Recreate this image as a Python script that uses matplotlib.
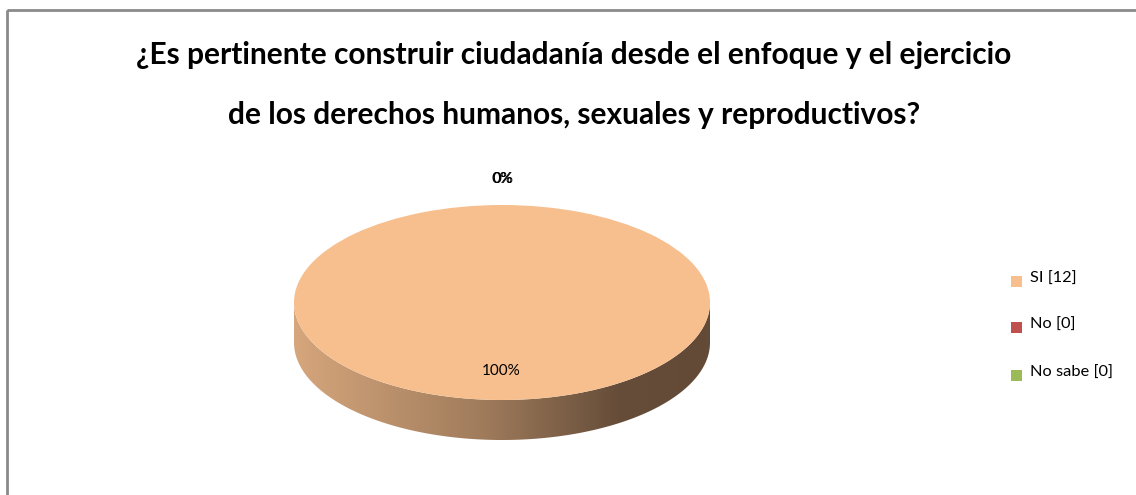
import matplotlib
matplotlib.use('Agg')
import matplotlib.pyplot as plt
import numpy as np
from matplotlib.patches import Polygon, Rectangle
from matplotlib.colors import LinearSegmentedColormap

# data
title = ('¿Es pertinente construir ciudadanía desde el enfoque y el ejercicio\n'
         'de los derechos humanos, sexuales y reproductivos?')
categories = ['SI', 'No', 'No sabe']
counts = [12, 0, 0]
colors = ['#F7BF8E', '#C0504D', '#9BBB59']

W, H = 1136, 495
plt.rcParams['font.family'] = ['Lato', 'DejaVu Sans']

fig = plt.figure(figsize=(W / 100, H / 100), dpi=100)

# full figure canvas in pixel coords
canvas = fig.add_axes([0, 0, 1, 1])
canvas.set_xlim(0, W)
canvas.set_ylim(H, 0)
canvas.axis('off')
canvas.add_patch(Rectangle((7, 10), W + 20, H + 20, fill=False, ec='#8a8a8a', lw=2, clip_on=False))
canvas.text(574, 55, title.split('\n')[0], ha='center', va='center', fontsize=21.5,
            fontweight='bold', color='black')
canvas.text(574, 115, title.split('\n')[1], ha='center', va='center', fontsize=21.5,
            fontweight='bold', color='black')

# pie axes: top ellipse from x 294..710, y 205..400, depth 40 px
x0, x1, ytop, ybot = 294, 710, 205, 400
depth_px = 40
ry_px = (ybot - ytop) / 2
depth = depth_px / ry_px
pax = fig.add_axes([x0 / W, 1 - (ybot + depth_px) / H, (x1 - x0) / W, (ybot + depth_px - ytop) / H])

# top face
wedges, _ = pax.pie(counts, colors=colors, startangle=90, counterclock=False,
                    radius=1, center=(0, 0), frame=True)
for w in wedges:
    w.set_zorder(2)
    w.set_edgecolor('none')

# side of the cylinder with a horizontal gradient
t = np.linspace(np.pi, 2 * np.pi, 200)
upper = np.column_stack([np.cos(t), np.sin(t)])
lower = np.column_stack([np.cos(t[::-1]), np.sin(t[::-1]) - depth])
side = Polygon(np.vstack([upper, lower]), closed=True, fc='none', ec='none')
pax.add_patch(side)
cmap = LinearSegmentedColormap.from_list('side', [
    (0.0, (214 / 255, 166 / 255, 124 / 255)),
    (0.45, (160 / 255, 124 / 255, 92 / 255)),
    (0.78, (102 / 255, 77 / 255, 57 / 255)),
    (1.0, (98 / 255, 74 / 255, 54 / 255))])
grad = np.linspace(0, 1, 256).reshape(1, -1)
im = pax.imshow(grad, cmap=cmap, extent=[-1, 1, -1 - depth, 0], aspect='auto', zorder=1)
im.set_clip_path(side)
pax.set_aspect('auto')
pax.set_xlim(-1, 1)
pax.set_ylim(-1 - depth, 1)
pax.axis('off')

# percentage labels
total = sum(counts)
for i, (w, c) in enumerate(zip(wedges, counts)):
    pct = 100.0 * c / total
    ang = np.deg2rad((w.theta1 + w.theta2) / 2)
    dist = 0.68 if pct > 0 else 1.27
    x = dist * np.cos(ang) + (i - 1) * 0.003
    y = dist * np.sin(ang) - (0.02 if pct > 0 else 0)
    pax.text(x, y, '%d%%' % round(pct), ha='center', va='center', fontsize=11,
             color='black', zorder=5, clip_on=False)

# legend
leg_y = [281, 327, 375]
for cat, n, col, y in zip(categories, counts, colors, leg_y):
    canvas.add_patch(Rectangle((1011, y - 5), 11, 11, fc=col, ec='none'))
    canvas.text(1030, y - 2, '%s [%d]' % (cat, n), ha='left', va='center', fontsize=11.8)

fig.savefig('out.png', dpi=100)
